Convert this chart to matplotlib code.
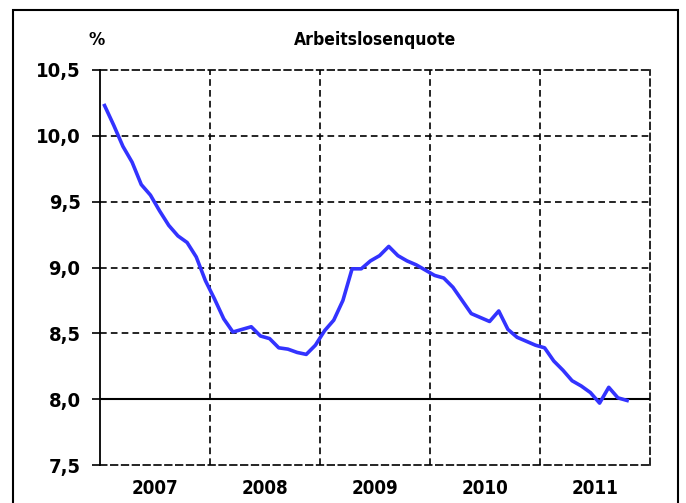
import matplotlib
matplotlib.use("Agg")
import matplotlib.pyplot as plt
from matplotlib.patches import Rectangle
from matplotlib.ticker import FixedLocator, FuncFormatter

years = [2007, 2008, 2009, 2010, 2011]
# monthly unemployment rate, Jan 2007 - Oct 2011
quote = [
    10.23, 10.08, 9.92, 9.80, 9.63, 9.55, 9.43, 9.32, 9.24, 9.19, 9.08, 8.90,
    8.76, 8.61, 8.51, 8.53, 8.55, 8.48, 8.46, 8.39, 8.38, 8.355, 8.34, 8.41,
    8.52, 8.60, 8.75, 8.99, 8.99, 9.05, 9.09, 9.16, 9.09, 9.05, 9.02, 8.98,
    8.94, 8.92, 8.85, 8.75, 8.65, 8.62, 8.59, 8.67, 8.53, 8.47, 8.44, 8.41,
    8.39, 8.29, 8.22, 8.14, 8.10, 8.05, 7.97, 8.09, 8.01, 7.99,
]
yticks = [7.5, 8.0, 8.5, 9.0, 9.5, 10.0, 10.5]
title = "Arbeitslosenquote"
unit = "%"

plt.rcParams['font.family'] = ['DejaVu Sans']
plt.rcParams['font.stretch'] = 'condensed'

fig = plt.figure(figsize=(6.86, 5.03), dpi=100)
ax = fig.add_axes([100/686, 1-465/503, 550/686, 395/503])

x = [years[0] + (i + 0.5) / 12 for i in range(len(quote))]
ax.plot(x, quote, color='#3333FF', lw=2.6, solid_joinstyle='round', zorder=5)

ax.set_xlim(years[0], years[-1] + 1)
ax.set_ylim(7.5, 10.5)

dash = (0, (4, 2.5))
for y in yticks[1:-1]:
    if y == 8.0:
        ax.axhline(y, color='black', lw=1.5, zorder=3)
    else:
        ax.axhline(y, color='black', lw=1.2, ls=dash, zorder=2)
for yr in years[1:]:
    ax.axvline(yr, color='black', lw=1.2, ls=dash, zorder=2)

for s in ['top', 'right', 'bottom']:
    ax.spines[s].set_linestyle(dash)
    ax.spines[s].set_linewidth(1.2)
ax.spines['left'].set_linewidth(1.3)

ax.yaxis.set_major_locator(FixedLocator(yticks))
ax.yaxis.set_major_formatter(FuncFormatter(lambda v, p: f"{v:.1f}".replace('.', ',')))
ax.tick_params(axis='y', direction='out', length=6, width=1.2, pad=8,
               labelsize=14.5)
for lab in ax.get_yticklabels():
    lab.set_fontweight('bold')

ax.set_xticks([yr + 0.5 for yr in years])
ax.set_xticklabels([str(yr) for yr in years], fontsize=13.5, fontweight='bold')
ax.tick_params(axis='x', length=0, pad=10)

fig.text(375/686, 1-40/503, title, ha='center', va='center', fontsize=12.5,
         fontweight='bold')
fig.text(97/686, 1-40/503, unit, ha='center', va='center', fontsize=13,
         fontweight='bold')

fig.patches.append(Rectangle((13/686, -0.05), (678-13)/686, 1.05 - 10/503,
                             transform=fig.transFigure, fill=False,
                             edgecolor='black', lw=1.5, clip_on=False))

fig.savefig('out.png', dpi=100)
